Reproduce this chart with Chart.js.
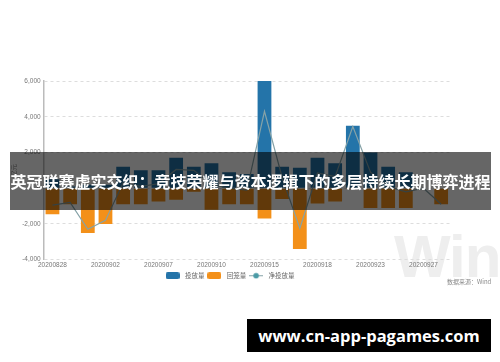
<!DOCTYPE html>
<html>
<head>
<meta charset="utf-8">
<script src="https://cdn.jsdelivr.net/npm/chart.js@4"></script>
<style>
  body { margin: 0; width: 500px; height: 362px; position: relative; overflow: hidden; background: #fff; }
  #wm { position: absolute; left: 394px; top: 222px; font: bold 60px "Liberation Sans", sans-serif; color: #eeeeee; letter-spacing: -1px; }
  #c { position: absolute; left: 0; top: 0; }
  #src { position: absolute; left: 447px; top: 277px; font: 6px "Noto Sans CJK SC", sans-serif; color: #888; white-space: nowrap; }
  #band { position: absolute; left: 10px; top: 152px; width: 481px; height: 58px; background: rgba(0,0,0,0.6);
          color: #fff; font: bold 16px "Noto Sans CJK SC", sans-serif; line-height: 58px; text-align: center; white-space: nowrap; }
  #url { position: absolute; left: 247px; top: 319px; width: 244px; height: 33px; background: #000; color: #fff;
         font: bold 16.5px "Open Sans", sans-serif; line-height: 33px; text-align: center; white-space: nowrap; }
</style>
</head>
<body>
<div id="wm">Wind</div>
<canvas id="c" width="500" height="362"></canvas>
<div id="src">数据来源：Wind</div>
<div id="band">英冠联赛虚实交织：竞技荣耀与资本逻辑下的多层持续长期博弈进程</div>
<div id="url">www.cn-app-pagames.com</div>
<script>
// 日期
const dates = ['20200828', '20200831', '20200901', '20200902', '20200903', '20200904', '20200907', '20200908',
               '20200909', '20200910', '20200911', '20200914', '20200915', '20200916', '20200917', '20200918',
               '20200921', '20200922', '20200923', '20200924', '20200925', '20200927', '20200928'];
// 投放量 (亿元)
const touFang = [500, 100, 200, 200, 1200, 1000, 1000, 1700, 1200, 1400, 900, 800,
                 6000, 1200, 1150, 1700, 1400, 3500, 2000, 1200, 900, 0, 0];
// 回笼量
const huiLong = [-1450, -900, -2500, -2000, -900, -900, -750, -650, -200, -1200, -900, -900,
                 -1700, -600, -3400, -850, -750, -50, -1100, -1100, -1100, 0, -900];
// 净投放量
const jingTouFang = [-950, -800, -2300, -1800, 300, 100, 250, 1050, 1000, 200, 0, -100,
                     4300, 600, -2250, 850, 650, 3450, 900, 100, -200, 0, -900];
const yTicks = [-4000, -2000, 0, 2000, 4000, 6000];

const blue = '#2474a9';
const orange = '#f39019';
const lineColor = '#86a2a7';

// petits dessins pour la légende
function boxIcon(color) {
    const c = document.createElement('canvas');
    c.width = 14; c.height = 7;
    const g = c.getContext('2d');
    g.fillStyle = color;
    g.beginPath();
    g.roundRect(0, 0, 14, 7, 2);
    g.fill();
    return c;
}
function lineIcon() {
    const c = document.createElement('canvas');
    c.width = 14; c.height = 7;
    const g = c.getContext('2d');
    g.strokeStyle = lineColor;
    g.lineWidth = 1;
    g.beginPath(); g.moveTo(0, 3.5); g.lineTo(14, 3.5); g.stroke();
    g.fillStyle = '#4b9ba6';
    g.beginPath(); g.arc(7, 3.5, 2.8, 0, Math.PI * 2); g.fill();
    return c;
}
const icons = [boxIcon(blue), boxIcon(orange), lineIcon()];

new Chart(document.getElementById('c'), {
    data: {
        labels: dates,
        datasets: [
            { type: 'bar', label: '投放量', data: touFang, backgroundColor: blue, stack: 'ops', order: 1 },
            { type: 'bar', label: '回笼量', data: huiLong, backgroundColor: orange, stack: 'ops', order: 2 },
            { type: 'line', label: '净投放量', data: jingTouFang, borderColor: lineColor, borderWidth: 1.2,
              pointRadius: 0, tension: 0, stack: 'net', order: 0 }
        ]
    },
    options: {
        responsive: false,
        animation: false,
        devicePixelRatio: 1,
        layout: { padding: { left: 8, right: 50, top: 81, bottom: 73 } },
        datasets: { bar: { barPercentage: 0.78, categoryPercentage: 1 } },
        scales: {
            x: {
                stacked: true,
                grid: { display: false, drawTicks: false },
                border: { display: false },
                ticks: {
                    autoSkip: false, maxRotation: 0, padding: 2,
                    color: '#777', font: { size: 6.5, family: 'Liberation Sans' },
                    callback: function(v, i) { return i % 3 === 0 ? dates[i] : ''; }
                }
            },
            y: {
                stacked: true,
                min: -4000, max: 6000,
                afterBuildTicks: function(axis) { axis.ticks = yTicks.map(v => ({ value: v })); },
                grid: { color: '#dddddd', lineWidth: 1, drawTicks: false },
                border: { display: true, color: '#bbbbbb', width: 1.5, dash: [3, 3] },
                ticks: { padding: 3, color: '#777', font: { size: 6.5, family: 'Liberation Sans' } },
                title: { display: true, text: '亿元', color: '#777', font: { size: 6, family: 'Noto Sans CJK SC' }, padding: 2 }
            }
        },
        plugins: {
            legend: {
                position: 'bottom',
                labels: {
                    usePointStyle: true,
                    pointStyleWidth: 18,
                    boxHeight: 7,
                    padding: 1,
                    color: '#666',
                    font: { size: 6.5, family: 'Noto Sans CJK SC' },
                    generateLabels: function(chart) {
                        return chart.data.datasets.map((ds, i) => ({
                            text: ds.label,
                            pointStyle: icons[i],
                            fillStyle: 'transparent',
                            strokeStyle: 'transparent',
                            lineWidth: 0,
                            hidden: !chart.isDatasetVisible(i),
                            datasetIndex: i,
                            fontColor: '#666'
                        }));
                    }
                }
            },
            tooltip: { enabled: false }
        }
    }
});
</script>
</body>
</html>
